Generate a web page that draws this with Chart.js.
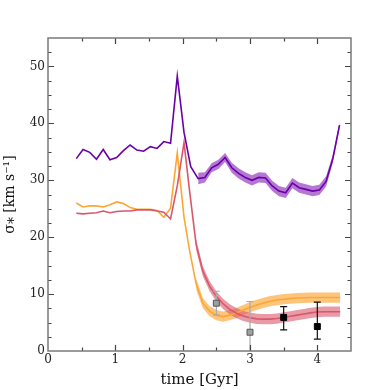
<!DOCTYPE html>
<html>
<head>
<meta charset="utf-8">
<script src="https://cdn.jsdelivr.net/npm/chart.js@4"></script>
<style>
  html, body { margin: 0; padding: 0; background: #fff; }
  #wrap { width: 390px; height: 390px; }
</style>
</head>
<body>
<div id="wrap"><canvas id="chart" width="390" height="390"></canvas></div>
<script>
// dispersion curves (time in Gyr, sigma in km/s)
const purpleT = [0.42, 0.52, 0.62, 0.72, 0.82, 0.92, 1.02, 1.12, 1.22, 1.32, 1.42, 1.52, 1.62, 1.72, 1.82, 1.92, 2.02, 2.12,
  2.23, 2.33, 2.43, 2.53, 2.63, 2.73, 2.83, 2.93, 3.03, 3.13, 3.23, 3.33, 3.43, 3.53, 3.63, 3.73, 3.83, 3.93, 4.03, 4.13, 4.23, 4.33];
const purpleV = [33.8, 35.4, 34.9, 33.7, 35.4, 33.6, 34.0, 35.2, 36.2, 35.3, 35.1, 35.9, 35.6, 36.8, 36.5, 48.3, 38.4, 32.4,
  30.3, 30.5, 32.2, 32.8, 34.0, 32.2, 31.2, 30.5, 30.0, 30.5, 30.4, 29.0, 28.1, 27.8, 29.5, 28.7, 28.4, 28.1, 28.3, 29.8, 33.8, 39.7];
const purpleBandT = [2.23, 2.33, 2.43, 2.53, 2.63, 2.73, 2.83, 2.93, 3.03, 3.13, 3.23, 3.33, 3.43, 3.53, 3.63, 3.73, 3.83, 3.93, 4.03, 4.13, 4.23, 4.33];
const purpleHi = [31.3, 31.4, 33.0, 33.6, 34.8, 33.1, 32.1, 31.4, 30.9, 31.4, 31.3, 29.9, 29.0, 28.7, 30.4, 29.6, 29.3, 29.0, 29.2, 30.7, 34.5, 40.3];
const purpleLo = [29.3, 29.6, 31.4, 32.0, 33.2, 31.3, 30.3, 29.6, 29.1, 29.6, 29.5, 28.1, 27.2, 26.9, 28.6, 27.8, 27.5, 27.2, 27.4, 28.9, 33.1, 39.1];

const orangeT = [0.42, 0.52, 0.62, 0.72, 0.82, 0.92, 1.02, 1.12, 1.22, 1.32, 1.42, 1.52, 1.62, 1.72, 1.82, 1.92,
  2.02, 2.1, 2.2, 2.3, 2.4, 2.5, 2.6, 2.7, 2.8, 2.9, 3.0, 3.1, 3.2, 3.3, 3.4, 3.5, 3.6, 3.7, 3.8, 3.9, 4.0, 4.1, 4.2, 4.34];
const orangeV = [26.0, 25.3, 25.5, 25.5, 25.3, 25.7, 26.2, 25.9, 25.2, 24.9, 24.9, 24.9, 24.7, 23.5, 25.1, 34.8,
  23.5, 17.8, 11.8, 8.4, 7.0, 6.3, 6.05, 6.3, 6.7, 7.2, 7.7, 8.1, 8.45, 8.75, 8.95, 9.1, 9.2, 9.3, 9.35, 9.4, 9.4, 9.4, 9.4, 9.4];
const orangeBandT = [2.2, 2.3, 2.4, 2.5, 2.6, 2.7, 2.8, 2.9, 3.0, 3.1, 3.2, 3.3, 3.4, 3.5, 3.6, 3.7, 3.8, 3.9, 4.0, 4.1, 4.2, 4.34];
const orangeHi = [12.8, 9.3, 7.9, 7.2, 6.95, 7.2, 7.6, 8.1, 8.6, 9.0, 9.35, 9.65, 9.85, 10.0, 10.1, 10.2, 10.25, 10.3, 10.3, 10.3, 10.3, 10.3];
const orangeLo = [10.8, 7.5, 6.1, 5.4, 5.15, 5.4, 5.8, 6.3, 6.8, 7.2, 7.55, 7.85, 8.05, 8.2, 8.3, 8.4, 8.45, 8.5, 8.5, 8.5, 8.5, 8.5];

const redT = [0.42, 0.52, 0.62, 0.72, 0.82, 0.92, 1.02, 1.12, 1.22, 1.32, 1.42, 1.52, 1.62, 1.72, 1.82, 1.92, 2.02,
  2.1, 2.2, 2.3, 2.4, 2.5, 2.6, 2.7, 2.8, 2.9, 3.0, 3.1, 3.2, 3.3, 3.4, 3.5, 3.6, 3.7, 3.8, 3.9, 4.0, 4.1, 4.2, 4.34];
const redV = [24.2, 24.1, 24.2, 24.3, 24.6, 24.3, 24.5, 24.6, 24.6, 24.8, 24.8, 24.8, 24.6, 24.4, 23.2, 29.0, 36.6,
  28.4, 18.7, 14.0, 11.4, 9.6, 8.3, 7.3, 6.65, 6.15, 5.85, 5.65, 5.6, 5.6, 5.7, 5.9, 6.1, 6.3, 6.5, 6.7, 6.85, 6.9, 6.9, 6.9];
const redBandT = [2.2, 2.3, 2.4, 2.5, 2.6, 2.7, 2.8, 2.9, 3.0, 3.1, 3.2, 3.3, 3.4, 3.5, 3.6, 3.7, 3.8, 3.9, 4.0, 4.1, 4.2, 4.34];
const redHi = [19.7, 14.9, 12.3, 10.5, 9.2, 8.2, 7.55, 7.05, 6.75, 6.55, 6.5, 6.5, 6.6, 6.8, 7.0, 7.2, 7.4, 7.6, 7.75, 7.8, 7.8, 7.8];
const redLo = [17.7, 13.1, 10.5, 8.7, 7.4, 6.4, 5.75, 5.25, 4.95, 4.75, 4.7, 4.7, 4.8, 5.0, 5.2, 5.4, 5.6, 5.8, 5.95, 6.0, 6.0, 6.0];

// observed points with error bars
const obsT = [2.5, 3.0, 3.5, 4.0];
const obsV = [8.4, 3.3, 5.9, 4.3];
const obsLo = [6.3, 0, 3.7, 2.1];
const obsHi = [10.5, 8.7, 7.8, 8.6];
const obsFill = ['#a0a0a0', '#a0a0a0', '#000000', '#000000'];
const obsEdge = ['#555555', '#555555', '#000000', '#000000'];
const obsBar = ['#aaaaaa', '#aaaaaa', '#111111', '#111111'];

const xTicks = [0, 1, 2, 3, 4];
const yTicks = [0, 10, 20, 30, 40, 50];

const PURPLE = '#6a00a8';
const ORANGE = '#fca636';
const RED = '#d8576b';
const FONT = "'DejaVu Serif', serif";

function pts(xs, ys) {
  return xs.map((x, i) => ({ x: x, y: ys[i] }));
}

function lineSet(xs, ys, color, order) {
  return {
    data: pts(xs, ys), borderColor: color, borderWidth: 1.6,
    pointRadius: 0, tension: 0, fill: false, order: order
  };
}

function bandSets(xs, lo, hi, fillColor, order) {
  return [
    { data: pts(xs, hi), borderWidth: 0, pointRadius: 0, fill: false, order: order },
    { data: pts(xs, lo), borderWidth: 0, pointRadius: 0, fill: '-1', backgroundColor: fillColor, order: order }
  ];
}

// frame, inward ticks on all four sides, and error bars
const framePlugin = {
  id: 'frame',
  beforeDatasetDraw(chart, args) {
    if (args.index !== chart.data.datasets.length - 1) return;
    const ctx = chart.ctx, xs = chart.scales.x, ys = chart.scales.y;
    ctx.save();
    ctx.lineWidth = 1.2;
    obsT.forEach((t, i) => {
      const px = xs.getPixelForValue(t);
      const top = ys.getPixelForValue(obsHi[i]);
      const bot = ys.getPixelForValue(obsLo[i]);
      ctx.strokeStyle = obsBar[i];
      ctx.beginPath();
      ctx.moveTo(px, top); ctx.lineTo(px, bot);
      ctx.moveTo(px - 3.5, top); ctx.lineTo(px + 3.5, top);
      if (obsLo[i] > 0) { ctx.moveTo(px - 3.5, bot); ctx.lineTo(px + 3.5, bot); }
      ctx.stroke();
    });
    ctx.restore();
  },
  afterDraw(chart) {
    const ctx = chart.ctx, a = chart.chartArea;
    const xs = chart.scales.x, ys = chart.scales.y;
    ctx.save();
    ctx.strokeStyle = '#444';
    ctx.lineWidth = 1.2;
    for (let v = 0.5; v < 4.5; v += 0.5) {
      const px = Math.round(xs.getPixelForValue(v)) + 0.5;
      const len = Number.isInteger(v) ? 6 : 3.5;
      ctx.beginPath();
      ctx.moveTo(px, a.bottom); ctx.lineTo(px, a.bottom - len);
      ctx.moveTo(px, a.top); ctx.lineTo(px, a.top + len);
      ctx.stroke();
    }
    for (let v = 2.5; v < 55; v += 2.5) {
      const py = Math.round(ys.getPixelForValue(v)) + 0.5;
      const len = v % 10 === 0 ? 6 : 3.5;
      ctx.beginPath();
      ctx.moveTo(a.left, py); ctx.lineTo(a.left + len, py);
      ctx.moveTo(a.right, py); ctx.lineTo(a.right - len, py);
      ctx.stroke();
    }
    ctx.strokeStyle = '#7a7a7a';
    ctx.lineWidth = 1.5;
    ctx.strokeRect(a.left, a.top, a.right - a.left, a.bottom - a.top);
    ctx.restore();
  }
};

const datasets = [].concat(
  [lineSet(purpleT, purpleV, PURPLE, 1)],
  [lineSet(redT, redV, RED, 2)],
  [lineSet(orangeT, orangeV, ORANGE, 3)],
  bandSets(purpleBandT, purpleLo, purpleHi, 'rgba(130, 30, 180, 0.6)', 4),
  bandSets(redBandT, redLo, redHi, 'rgba(216, 87, 107, 0.6)', 5),
  bandSets(orangeBandT, orangeLo, orangeHi, 'rgba(252, 166, 54, 0.65)', 6),
  [{
    type: 'scatter',
    data: pts(obsT, obsV),
    pointStyle: 'rect', pointRadius: 4.2,
    pointBackgroundColor: obsFill, pointBorderColor: obsEdge, pointBorderWidth: 1,
    showLine: false, order: 0
  }]
);

new Chart(document.getElementById('chart'), {
  type: 'line',
  data: { datasets: datasets },
  options: {
    responsive: false,
    animation: false,
    events: [],
    layout: { padding: { left: 0, top: 38, right: 39, bottom: 0 } },
    plugins: { legend: { display: false }, tooltip: { enabled: false } },
    scales: {
      x: {
        type: 'linear', min: 0, max: 4.5,
        afterBuildTicks: s => { s.ticks = xTicks.map(v => ({ value: v })); },
        afterFit: s => { s.height = 39; },
        grid: { display: false, drawTicks: false },
        border: { display: false },
        ticks: { padding: 2, color: '#222', font: { family: FONT, size: 12 }, maxRotation: 0 },
        title: {
          display: true, text: 'time [Gyr]', color: '#111',
          font: { family: FONT, size: 15 }, padding: { top: 0, bottom: 1 }
        }
      },
      y: {
        type: 'linear', min: 0, max: 55,
        afterBuildTicks: s => { s.ticks = yTicks.map(v => ({ value: v })); },
        afterFit: s => { s.width = 48; },
        grid: { display: false, drawTicks: false },
        border: { display: false },
        ticks: { padding: 3, color: '#222', font: { family: FONT, size: 12 } },
        title: {
          display: true, text: 'σ⁎ [km s⁻¹]', color: '#111',
          font: { family: FONT, size: 14 }, padding: { top: 2, bottom: 0 }
        }
      }
    }
  },
  plugins: [framePlugin]
});
</script>
</body>
</html>
